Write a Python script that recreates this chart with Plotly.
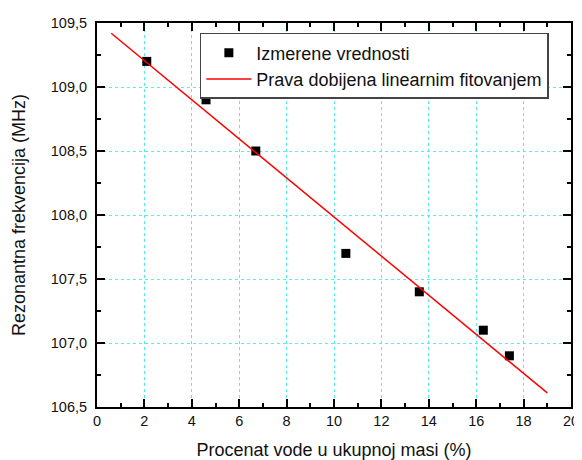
import plotly.graph_objects as go

# measured data
water_pct = [2.1, 4.6, 6.7, 10.5, 13.6, 16.3, 17.4]
freq_mhz = [109.2, 108.9, 108.5, 107.7, 107.4, 107.1, 106.9]

# linear fit line end points
fit_x = [0.6, 19.0]
fit_y = [109.42, 106.61]

x_ticks = [0, 2, 4, 6, 8, 10, 12, 14, 16, 18, 20]
y_ticks = [106.5, 107.0, 107.5, 108.0, 108.5, 109.0, 109.5]

font_family = "Liberation Sans, Arial, sans-serif"

fig = go.Figure()
fig.add_trace(go.Scatter(
    x=water_pct, y=freq_mhz, mode="markers",
    marker=dict(symbol="square", size=9, color="black"),
    name="Izmerene vrednosti",
))
fig.add_trace(go.Scatter(
    x=fit_x, y=fit_y, mode="lines",
    line=dict(color="red", width=1.5),
    name="Prava dobijena linearnim fitovanjem",
))

axis_common = dict(
    showline=True, linecolor="black", linewidth=2, mirror="allticks",
    ticks="inside", ticklen=8, tickwidth=2, tickcolor="black",
    showgrid=True, gridcolor="#55eeee", griddash="dot", gridwidth=1,
    zeroline=False, automargin=False,
    tickfont=dict(family=font_family, size=14.5, color="#111"),
)

fig.update_xaxes(
    range=[0, 20], tickvals=x_ticks,
    minor=dict(dtick=1, ticks="inside", ticklen=4, tickwidth=1.5, tickcolor="black", showgrid=False),
    title=dict(text="Procenat vode u ukupnoj masi (%)", font=dict(family=font_family, size=18, color="#111"), standoff=18),
    **axis_common,
)
fig.update_yaxes(
    range=[106.5, 109.5], tickvals=y_ticks, tickformat=".1f",
    ticklabelstandoff=5,
    minor=dict(dtick=0.25, ticks="inside", ticklen=4, tickwidth=1.5, tickcolor="black", showgrid=False),
    title=dict(text="Rezonantna frekvencija (MHz)", font=dict(family=font_family, size=18, color="#111"), standoff=21),
    **axis_common,
)

# the page body adds an 8 px offset, so the figure is sized to fit the window
fig.update_layout(
    width=574, height=452,
    margin=dict(l=89, r=11, t=15, b=53),
    plot_bgcolor="white", paper_bgcolor="white",
    separators=",.",
    legend=dict(
        x=0.217, y=0.974, xanchor="left", yanchor="top",
        bordercolor="#444", borderwidth=1.5, bgcolor="white",
        font=dict(family=font_family, size=18, color="#111"),
        tracegroupgap=0, itemwidth=45,
    ),
)

fig.write_html("out.html")
